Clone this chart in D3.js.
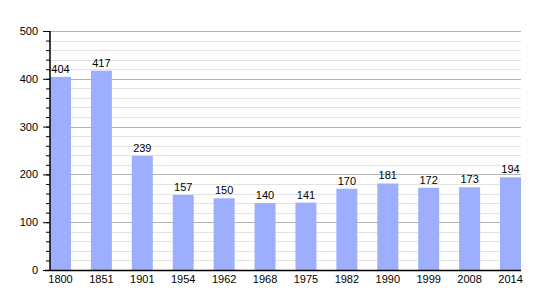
<!DOCTYPE html>
<html lang="en">
  <head>
    <meta charset="utf-8"/>
    <title>Population bar chart</title>
    <script src="https://cdn.jsdelivr.net/npm/d3@7"></script>
    <style>
      body { margin: 0; background: #fff; }
      text { font-family: "Liberation Sans", Arial, sans-serif; font-size: 11px; fill: #000; }
    </style>
  </head>
  <body>
    <div id="chart"></div>
    <script type="text/javascript">

      // data
      var years = ["1800", "1851", "1901", "1954", "1962", "1968", "1975", "1982", "1990", "1999", "2008", "2014"];
      var population = [404, 417, 239, 157, 150, 140, 141, 170, 181, 172, 173, 194];
      var yTicks = [0, 100, 200, 300, 400, 500];

      var w = 550, h = 300;
      // plot edges (note: "top" is taken by window.top)
      var plotLeft = 50, plotRight = 521, plotTop = 31, plotBottom = 270;

      var svg = d3.select("#chart")
        .append("svg")
        .attr("width", w)
        .attr("height", h)
      ;

      var x = d3.scaleBand()
        .domain(years)
        .range([plotLeft, plotRight])
        .paddingInner(0.487)
        .paddingOuter(0)
      ;

      var y = d3.scaleLinear()
        .domain([0, 500])
        .range([plotBottom, plotTop])
      ;

      // minor grid every 20
      svg.append("g")
        .selectAll("line")
        .data(d3.range(20, 500, 20).filter(function(d) { return d % 100 != 0; }))
        .enter()
        .append("line")
        .attr("x1", plotLeft).attr("x2", plotRight)
        .attr("y1", function(d) { return Math.round(y(d)) + 0.5; })
        .attr("y2", function(d) { return Math.round(y(d)) + 0.5; })
        .attr("stroke", "#e3e3e3")
      ;

      // major grid every 100
      svg.append("g")
        .selectAll("line")
        .data(yTicks.slice(1))
        .enter()
        .append("line")
        .attr("x1", plotLeft).attr("x2", plotRight)
        .attr("y1", function(d) { return Math.round(y(d)) + 0.5; })
        .attr("y2", function(d) { return Math.round(y(d)) + 0.5; })
        .attr("stroke", "#b3b3b3")
      ;

      // bars
      svg.append("g")
        .selectAll("rect")
        .data(population)
        .enter()
        .append("rect")
        .attr("x", function(d, i) { return x(years[i]); })
        .attr("width", x.bandwidth())
        .attr("y", function(d) { return y(d); })
        .attr("height", function(d) { return y(0) - y(d); })
        .attr("fill", "#9eaeff")
      ;

      // value labels
      svg.append("g")
        .selectAll("text")
        .data(population)
        .enter()
        .append("text")
        .attr("x", function(d, i) { return x(years[i]) + x.bandwidth() / 2; })
        .attr("y", function(d) { return y(d) - 4; })
        .attr("text-anchor", "middle")
        .text(function(d) { return d; })
      ;

      // y axis: minor ticks every 20, labelled ticks every 100
      svg.append("g")
        .attr("transform", "translate(" + plotLeft + ",0)")
        .call(d3.axisLeft(y).tickValues(d3.range(0, 501, 20)).tickSize(4).tickFormat(""))
      ;
      svg.append("g")
        .attr("transform", "translate(" + plotLeft + ",0)")
        .call(d3.axisLeft(y).tickValues(yTicks).tickSize(7).tickPadding(5))
      ;

      // x axis labels
      svg.append("g")
        .attr("transform", "translate(0," + plotBottom + ")")
        .call(d3.axisBottom(x).tickSize(0).tickPadding(5))
      ;
      svg.selectAll(".domain").remove();
      svg.selectAll(".tick line").attr("stroke", "#000");
      svg.selectAll(".tick text").style("font-size", "11px").style("font-family", "Liberation Sans, Arial, sans-serif");

      // axis lines
      svg.append("line")
        .attr("x1", plotLeft).attr("x2", plotLeft)
        .attr("y1", plotTop).attr("y2", plotBottom)
        .attr("stroke", "#000").attr("stroke-width", 1.5)
      ;
      svg.append("line")
        .attr("x1", plotLeft - 5).attr("x2", plotRight)
        .attr("y1", plotBottom + 0.5).attr("y2", plotBottom + 0.5)
        .attr("stroke", "#000").attr("stroke-width", 1.5)
      ;
    </script>
  </body>
</html>
